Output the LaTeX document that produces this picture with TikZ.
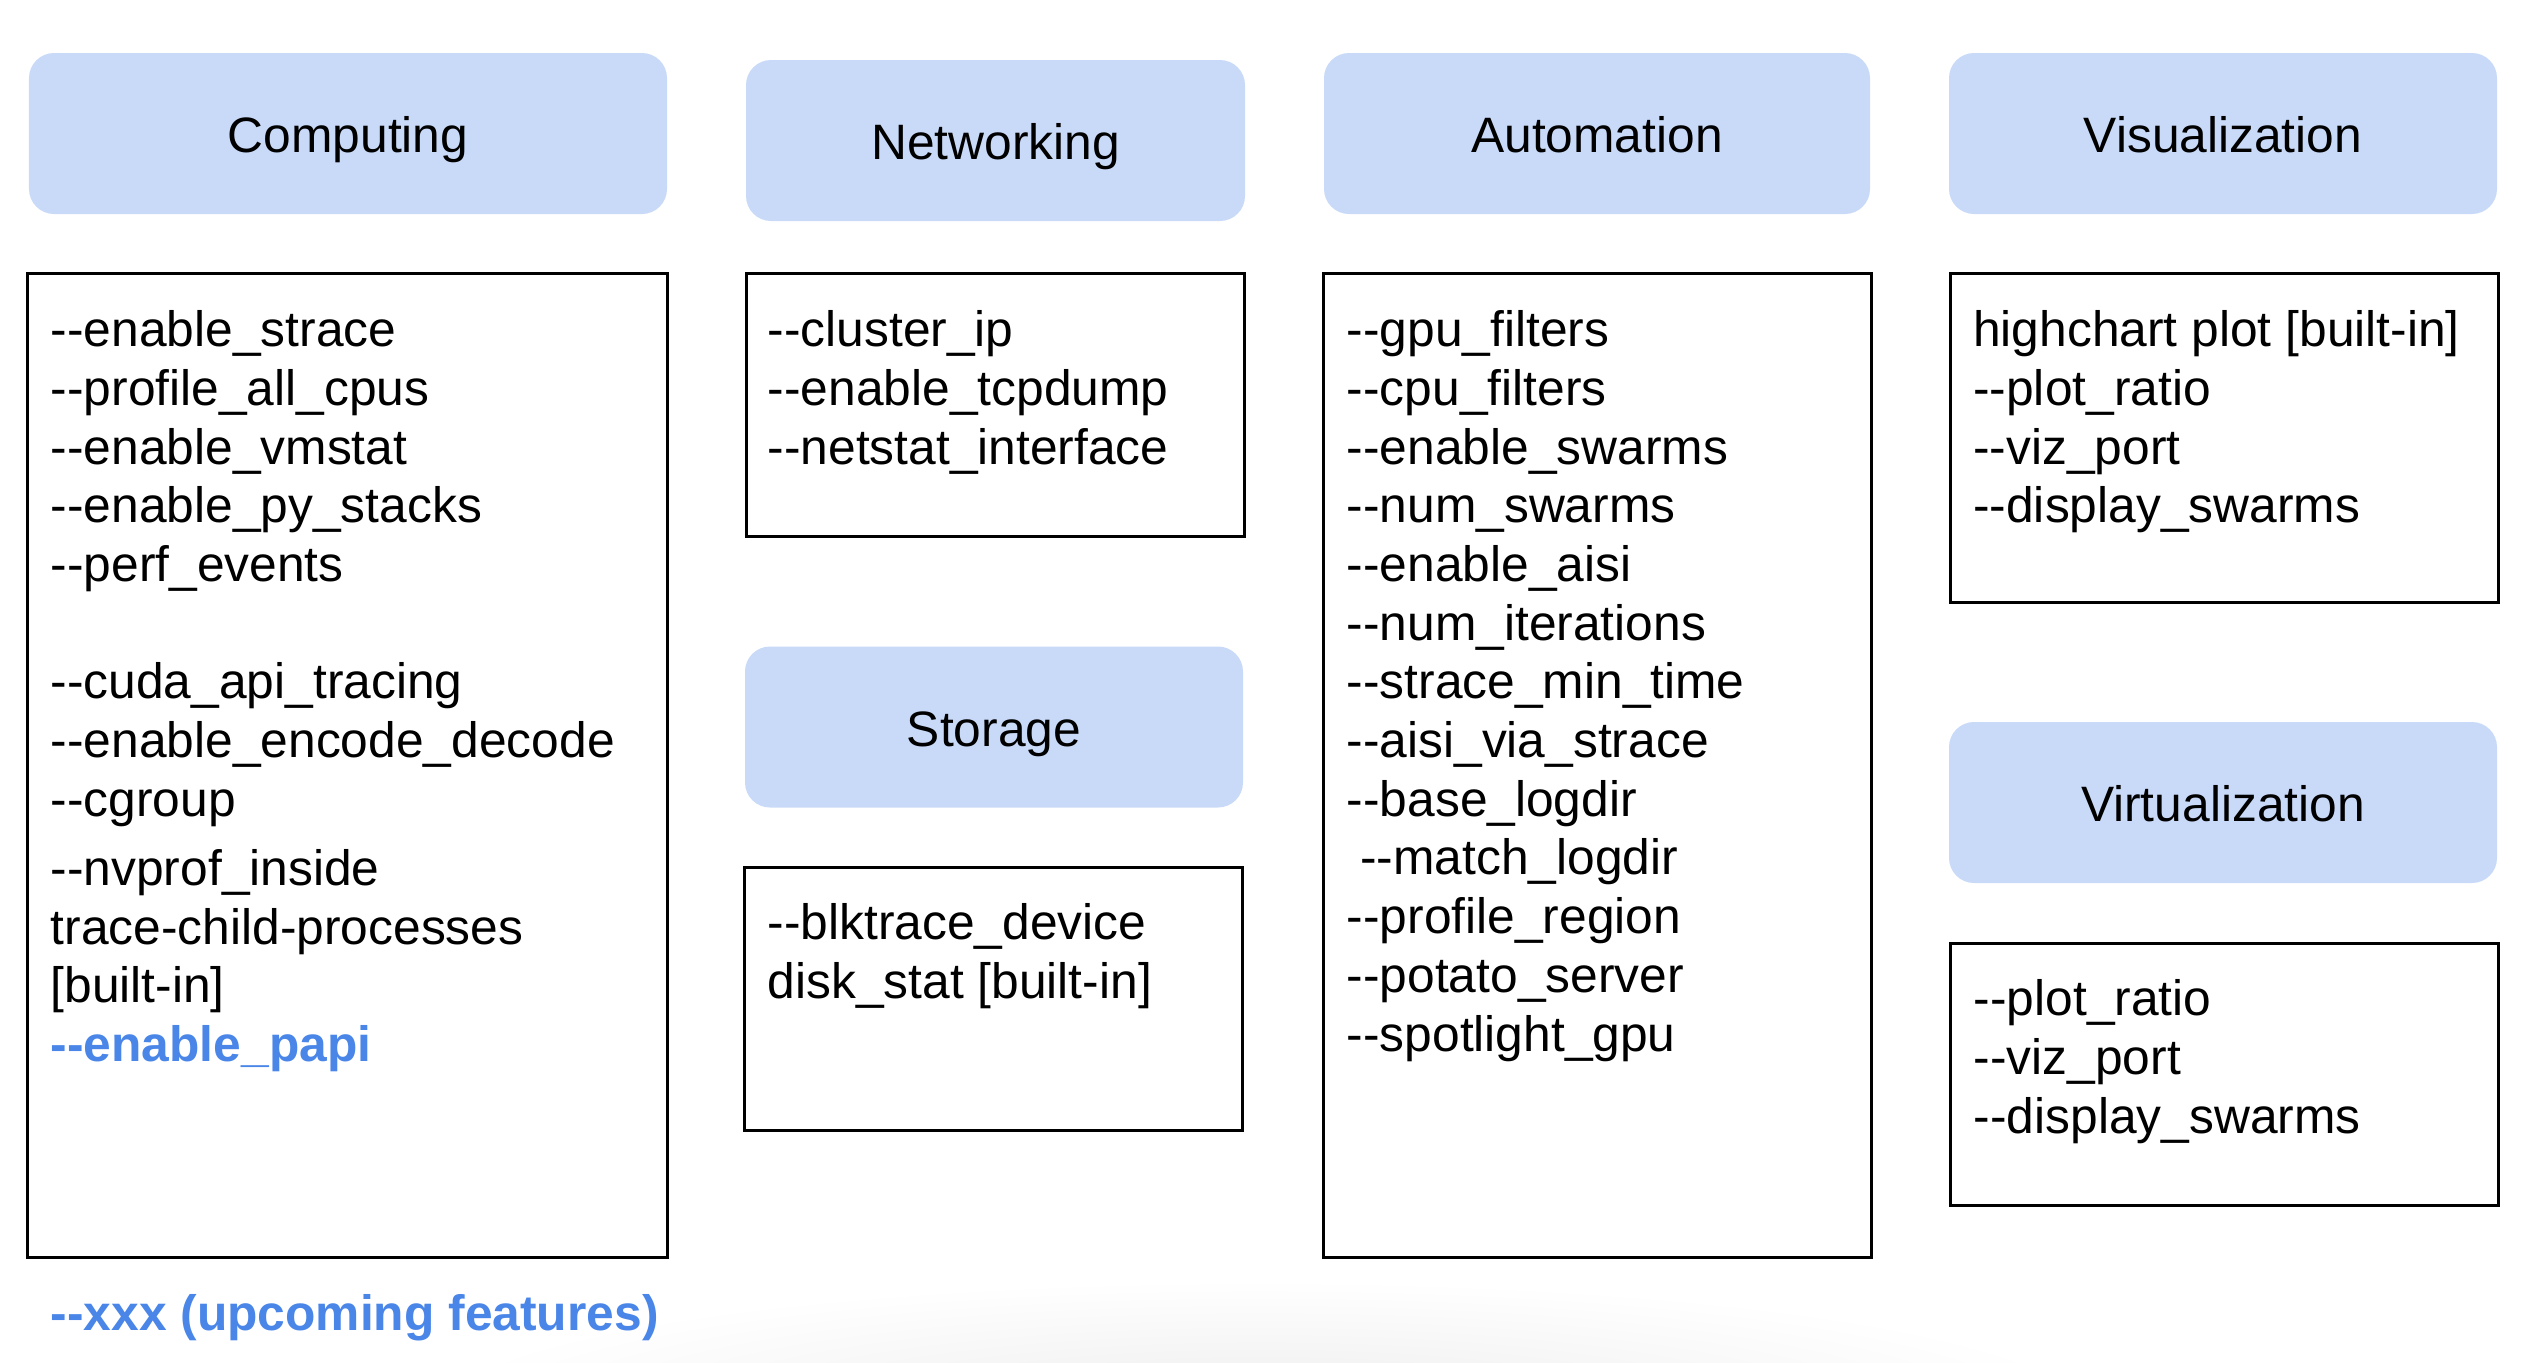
\documentclass[tikz,border=0pt]{standalone}
\usepackage{fontspec}
\setmainfont{Liberation Sans}[Ligatures=TeXOff]
\usepackage{xcolor}
\usepackage{tikz}
\usetikzlibrary{positioning}
\definecolor{headblue}{HTML}{C9DAF8}
\definecolor{flagblue}{HTML}{4A86E8}

\begin{document}
\begin{tikzpicture}[
  font=\fontsize{14.15}{16.7}\selectfont,
  header/.style={fill=headblue, rounded corners=0.25cm, minimum height=1.61cm,
    text height=1.1em, text depth=0pt, align=center},
  flagbox/.style={draw=black, line width=0.8pt, anchor=north west, inner sep=0pt},
  flaglist/.style={align=left, inner sep=0pt, anchor=north west},
  upcoming/.style={text=flagblue, font=\fontsize{14.15}{16.7}\selectfont\bfseries,
    inner sep=0pt, anchor=north west}
]
  \useasboundingbox (0,0) rectangle (25.28,-13.62);

  % faint slide shadow at the bottom edge
  \shade[inner color=black!7, outer color=white] (12.6,-14.1) ellipse (8.4cm and 1.3cm);

  % category headers
  \node[header, minimum width=6.38cm] (comphead) at (3.48,-1.335) {Computing};
  \node[header, minimum width=4.99cm] (nethead) at (9.955,-1.405) {Networking};
  \node[header, minimum width=5.46cm] (autohead) at (15.97,-1.335) {Automation};
  \node[header, minimum width=5.48cm] (vizhead) at (22.23,-1.335) {Visualization};
  \node[header, minimum width=4.98cm] (storhead) at (9.94,-7.27) {Storage};
  \node[header, minimum width=5.48cm] (virthead) at (22.23,-8.025) {Virtualization};

  % flag boxes
  \node[flagbox, minimum width=6.40cm, minimum height=9.84cm] (compbox) at (0.26,-2.72) {};
  \node[flagbox, minimum width=4.98cm, minimum height=2.63cm] (netbox) at (7.45,-2.72) {};
  \node[flagbox, minimum width=4.98cm, minimum height=2.63cm] (storbox) at (7.43,-8.66) {};
  \node[flagbox, minimum width=5.48cm, minimum height=9.84cm] (autobox) at (13.22,-2.72) {};
  \node[flagbox, minimum width=5.48cm, minimum height=3.29cm] (vizbox) at (19.49,-2.72) {};
  \node[flagbox, minimum width=5.48cm, minimum height=2.62cm] (virtbox) at (19.49,-9.42) {};

  \node[flaglist, below right=0.38cm and 0.24cm of compbox.north west] (compflags)
    {--enable\_strace\\--profile\_all\_cpus\\--enable\_vmstat\\--enable\_py\_stacks\\
     --perf\_events\\[16.7pt]--cuda\_api\_tracing\\--enable\_encode\_decode\\
     --cgroup\\[3pt]--nvprof\_inside\\trace-child-processes\\{[built-in]}\\
     \textcolor{flagblue}{\bfseries --enable\_papi}};
  \node[flaglist, below right=0.38cm and 0.22cm of netbox.north west] (netflags)
    {--cluster\_ip\\--enable\_tcpdump\\--netstat\_interface};
  \node[flaglist, below right=0.37cm and 0.24cm of storbox.north west] (storflags)
    {--blktrace\_device\\disk\_stat [built-in]};
  \node[flaglist, below right=0.38cm and 0.24cm of autobox.north west] (autoflags)
    {--gpu\_filters\\--cpu\_filters\\--enable\_swarms\\--num\_swarms\\--enable\_aisi\\
     --num\_iterations\\--strace\_min\_time\\--aisi\_via\_strace\\--base\_logdir\\
     \hspace{3.9pt}--match\_logdir\\--profile\_region\\--potato\_server\\--spotlight\_gpu};
  \node[flaglist, below right=0.38cm and 0.235cm of vizbox.north west] (vizflags)
    {highchart plot [built-in]\\--plot\_ratio\\--viz\_port\\--display\_swarms};
  \node[flaglist, below right=0.37cm and 0.24cm of virtbox.north west] (virtflags)
    {--plot\_ratio\\--viz\_port\\--display\_swarms};

  \node[upcoming, below right=0.35cm and 0.24cm of compbox.south west] (upnext)
    {--xxx (upcoming features)};
\end{tikzpicture}
\end{document}
